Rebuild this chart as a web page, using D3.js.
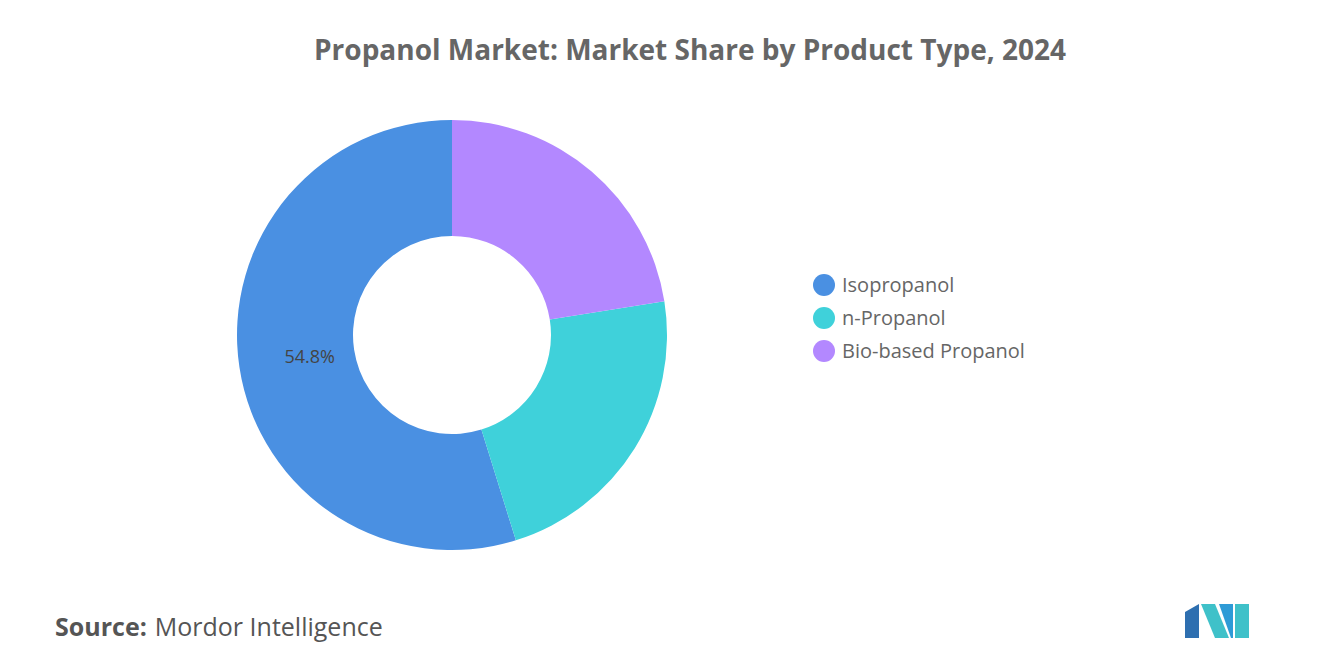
<!DOCTYPE html>
<html>
<head>
<meta charset="utf-8">
<script src="https://cdn.jsdelivr.net/npm/d3@7"></script>
<style>
  body { margin: 0; background: #fff; }
  text { font-family: "Open Sans", "Noto Sans", sans-serif; }
</style>
</head>
<body>
<svg id="chart" width="1320" height="665"></svg>
<script>
const categories = ['Isopropanol', 'n-Propanol', 'Bio-based Propanol'];
const shares = [54.8, 22.7, 22.5];
const colors = ['#4a90e2', '#3fd1da', '#b388ff'];

const svg = d3.select('#chart');

svg.append('text')
   .attr('x', 690).attr('y', 60)
   .attr('text-anchor', 'middle')
   .attr('font-size', 28).attr('font-weight', 700)
   .attr('fill', '#666')
   .text('Propanol Market: Market Share by Product Type, 2024');

const data = categories.map((c, i) => ({ label: c, value: shares[i], color: colors[i] }));

const pie = d3.pie().value(d => d.value).sort(null)
              .startAngle(0).endAngle(-2 * Math.PI);
const arc = d3.arc().innerRadius(99).outerRadius(215);

const g = svg.append('g').attr('transform', 'translate(452,335)');

g.selectAll('path')
  .data(pie(data))
  .enter()
  .append('path')
    .attr('d', arc)
    .attr('fill', d => d.data.color);

// only the largest slice is labelled
const labelArc = d3.arc().innerRadius(144).outerRadius(144);
g.selectAll('text.pct')
  .data(pie(data).filter(d => d.data.value > 50))
  .enter()
  .append('text')
    .attr('class', 'pct')
    .attr('transform', d => `translate(${labelArc.centroid(d)})`)
    .attr('text-anchor', 'middle')
    .attr('dy', '0.35em')
    .attr('font-size', 18).attr('fill', '#444')
    .text(d => d.data.value.toFixed(1) + '%');

const legend = svg.append('g').attr('transform', 'translate(824,285)');
const item = legend.selectAll('g')
  .data(data)
  .enter()
  .append('g')
    .attr('transform', (d, i) => `translate(0,${i * 33})`);

item.append('circle').attr('r', 11).attr('fill', d => d.color);
item.append('text')
    .attr('x', 18).attr('dy', '0.35em')
    .attr('font-size', 20).attr('fill', '#666')
    .text(d => d.label);

const source = svg.append('text').attr('x', 55).attr('y', 636).attr('font-size', 25).attr('fill', '#555');
source.append('tspan').attr('font-weight', 700).text('Source:');
source.append('tspan').attr('dx', 8).text('Mordor Intelligence');

// logo
const logo = svg.append('g').attr('transform', 'translate(1185,604)');
logo.append('polygon').attr('points', '0,34 0,8 14,0 14,34').attr('fill', '#2e6fb0');
logo.append('polygon').attr('points', '16,0 30,0 44,34 30,34').attr('fill', '#3fc1c9');
logo.append('polygon').attr('points', '34,0 48,0 48,34 46,34').attr('fill', '#2e9bd6');
logo.append('polygon').attr('points', '50,0 64,0 64,34 50,34').attr('fill', '#3fc1c9');
</script>
</body>
</html>
